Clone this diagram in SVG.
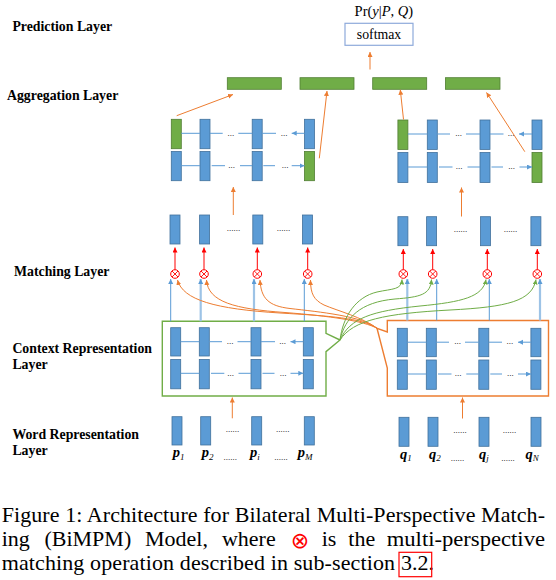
<svg xmlns="http://www.w3.org/2000/svg" width="556" height="580" viewBox="0 0 556 580">
<style>
.b{fill:#5b9bd5;stroke:#41719c;stroke-width:0.8}
.g{fill:#70ad47;stroke:#507e32;stroke-width:0.8}
.lbl{font-family:"Liberation Serif","Times New Roman",serif;font-weight:bold;font-size:13.8px;fill:#000}
.dots{font-family:"Liberation Serif",serif;font-size:9px;fill:#000;text-anchor:middle}
.wl{font-family:"Liberation Serif",serif;font-size:14.5px;font-weight:bold;font-style:italic;fill:#000}
.sub{font-size:9px;font-weight:normal}
.si{font-size:9px;font-weight:normal;font-style:italic}
.ab{stroke:#5b9bd5;stroke-width:1;fill:none;marker-end:url(#hb)}
.abl{stroke:#9dc3e6;stroke-width:2.2;fill:none;marker-end:url(#hb)}
.ao{stroke:#ed7d31;stroke-width:1;fill:none;marker-end:url(#ho)}
.ar{stroke:#ff0000;stroke-width:1;fill:none;marker-end:url(#hr)}
.ag{stroke:#70ad47;stroke-width:1;fill:none;marker-end:url(#hg)}
.ox{fill:#fff;stroke:#ff0000;stroke-width:1}
.cap{font-family:"Liberation Serif","Times New Roman",serif;font-size:22px;fill:#000}
</style>
<defs>
<marker id="hb" markerUnits="userSpaceOnUse" markerWidth="6" markerHeight="6" refX="5" refY="2.5" orient="auto"><path d="M0,0 L5,2.5 L0,5 Z" fill="#5b9bd5"/></marker>
<marker id="ho" markerUnits="userSpaceOnUse" markerWidth="6" markerHeight="6" refX="5" refY="2.5" orient="auto"><path d="M0,0 L5,2.5 L0,5 Z" fill="#ed7d31"/></marker>
<marker id="hr" markerUnits="userSpaceOnUse" markerWidth="6" markerHeight="6" refX="5" refY="2.5" orient="auto"><path d="M0,0 L5,2.5 L0,5 Z" fill="#ff0000"/></marker>
<marker id="hg" markerUnits="userSpaceOnUse" markerWidth="6" markerHeight="6" refX="5" refY="2.5" orient="auto"><path d="M0,0 L5,2.5 L0,5 Z" fill="#70ad47"/></marker>
</defs>

<g id="layer-labels" class="lbl">
<text x="12.4" y="30.7">Prediction Layer</text>
<text x="7" y="100">Aggregation Layer</text>
<text x="14" y="276">Matching Layer</text>
<text x="12.4" y="352.7">Context Representation</text>
<text x="12.4" y="369.3">Layer</text>
<text x="12.4" y="438.5">Word Representation</text>
<text x="12.4" y="454.5">Layer</text>
</g>

<g id="prediction">
<text x="354.6" y="16" font-family="'Liberation Serif',serif" font-size="14.5" fill="#000">Pr(<tspan font-style="italic">y</tspan>|<tspan font-style="italic">P</tspan>, <tspan font-style="italic">Q</tspan>)</text>
<rect x="345" y="23.3" width="68" height="22" fill="#fff" stroke="#8eaadb" stroke-width="1.2"/>
<text x="379" y="38.5" text-anchor="middle" font-family="'Liberation Serif',serif" font-size="13.8" fill="#000">softmax</text>
</g>

<g id="aggregation">
<rect class="g" x="227.3" y="77.7" width="54" height="11.6"/>
<rect class="g" x="300" y="77.7" width="54" height="11.6"/>
<rect class="g" x="372.7" y="77.7" width="54" height="11.6"/>
<rect class="g" x="445.4" y="77.7" width="54.6" height="11.6"/>
</g>

<g id="agg-bilstm-left">
<rect class="g" x="171.3" y="119.3" width="10" height="29.4"/>
<rect class="b" x="200" y="119.3" width="10" height="29.4"/>
<rect class="b" x="252.2" y="119.3" width="10" height="29.4"/>
<rect class="b" x="304.5" y="119.3" width="10" height="29.4"/>
<rect class="b" x="171.3" y="151.5" width="10" height="29.2"/>
<rect class="b" x="200" y="151.5" width="10" height="29.2"/>
<rect class="b" x="252.2" y="151.5" width="10" height="29.2"/>
<rect class="g" x="304.5" y="151.5" width="10" height="29.2"/>
<text class="dots" x="230.8" y="135.5">...</text>
<text class="dots" x="284" y="135.5">...</text>
<text class="dots" x="231.5" y="168">...</text>
<text class="dots" x="285" y="168">...</text>
</g>

<g id="agg-bilstm-right">
<rect class="g" x="397.9" y="120" width="10" height="29.4"/>
<rect class="b" x="427.3" y="120" width="10" height="29.4"/>
<rect class="b" x="480" y="120" width="10" height="29.4"/>
<rect class="b" x="532" y="120" width="10" height="29.4"/>
<rect class="b" x="397.9" y="152.5" width="10" height="30"/>
<rect class="b" x="427.3" y="152.5" width="10" height="30"/>
<rect class="b" x="480" y="152.5" width="10" height="30"/>
<rect class="g" x="532" y="152.5" width="10" height="30"/>
<text class="dots" x="458.5" y="136">...</text>
<text class="dots" x="511" y="136">...</text>
<text class="dots" x="459" y="169">...</text>
<text class="dots" x="511.5" y="169">...</text>
</g>

<g id="matching-out-left">
<rect class="b" x="170" y="215" width="10" height="29"/>
<rect class="b" x="199.6" y="215" width="10" height="29"/>
<rect class="b" x="252.8" y="215" width="10" height="29"/>
<rect class="b" x="302.5" y="215" width="10" height="29"/>
<text class="dots" x="233.5" y="231">......</text>
<text class="dots" x="283.5" y="231">......</text>
</g>
<g id="matching-out-right">
<rect class="b" x="397.9" y="216.7" width="10" height="29"/>
<rect class="b" x="426.6" y="216.7" width="10" height="29"/>
<rect class="b" x="480.5" y="216.7" width="10" height="29"/>
<rect class="b" x="530.9" y="216.7" width="10" height="29"/>
<text class="dots" x="460.5" y="232">......</text>
<text class="dots" x="510.5" y="232">......</text>
</g>

<g id="match-ops">
<g><circle class="ox" cx="175" cy="274" r="4.3"/><path d="M172,271 L178,277 M178,271 L172,277" stroke="#f00" stroke-width="0.9"/></g>
<g><circle class="ox" cx="204" cy="274" r="4.3"/><path d="M201,271 L207,277 M207,271 L201,277" stroke="#f00" stroke-width="0.9"/></g>
<g><circle class="ox" cx="257.3" cy="274" r="4.3"/><path d="M254.3,271 L260.3,277 M260.3,271 L254.3,277" stroke="#f00" stroke-width="0.9"/></g>
<g><circle class="ox" cx="307.7" cy="274" r="4.3"/><path d="M304.7,271 L310.7,277 M310.7,271 L304.7,277" stroke="#f00" stroke-width="0.9"/></g>
<g><circle class="ox" cx="403.3" cy="274" r="4.3"/><path d="M400.3,271 L406.3,277 M406.3,271 L400.3,277" stroke="#f00" stroke-width="0.9"/></g>
<g><circle class="ox" cx="432.7" cy="274" r="4.3"/><path d="M429.7,271 L435.7,277 M435.7,271 L429.7,277" stroke="#f00" stroke-width="0.9"/></g>
<g><circle class="ox" cx="487.3" cy="274" r="4.3"/><path d="M484.3,271 L490.3,277 M490.3,271 L484.3,277" stroke="#f00" stroke-width="0.9"/></g>
<g><circle class="ox" cx="537.3" cy="274" r="4.3"/><path d="M534.3,271 L540.3,277 M540.3,271 L534.3,277" stroke="#f00" stroke-width="0.9"/></g>
</g>

<g id="context-left">
<path d="M162.3,321.3 H326 V333.3 L340,340 L326,351.7 V396 H162.3 Z" fill="none" stroke="#70ad47" stroke-width="1.4"/>
<rect class="b" x="170.7" y="327.7" width="10" height="28.3"/>
<rect class="b" x="199.3" y="327.7" width="10" height="28.3"/>
<rect class="b" x="251" y="327.7" width="10" height="28.3"/>
<rect class="b" x="303.3" y="327.7" width="10" height="28.3"/>
<rect class="b" x="170.7" y="359.5" width="10" height="29.3"/>
<rect class="b" x="199.3" y="359.5" width="10" height="29.3"/>
<rect class="b" x="251" y="359.5" width="10" height="29.3"/>
<rect class="b" x="303.3" y="359.5" width="10" height="29.3"/>
<text class="dots" x="230" y="343.7">...</text>
<text class="dots" x="282.5" y="343.7">...</text>
<text class="dots" x="230.5" y="375.5">...</text>
<text class="dots" x="283" y="375.5">...</text>
</g>

<g id="context-right">
<path d="M387.3,332 V320.5 H548.5 V396 H387.3 V368 L377,328.3 Z" fill="none" stroke="#ed7d31" stroke-width="1.4"/>
<rect class="b" x="397.3" y="328.3" width="10" height="28.4"/>
<rect class="b" x="426.3" y="328.3" width="10" height="28.4"/>
<rect class="b" x="478.8" y="328.3" width="10" height="28.4"/>
<rect class="b" x="530.9" y="328.3" width="10" height="28.4"/>
<rect class="b" x="397.3" y="360" width="10" height="29.3"/>
<rect class="b" x="426.3" y="360" width="10" height="29.3"/>
<rect class="b" x="478.8" y="360" width="10" height="29.3"/>
<rect class="b" x="530.9" y="360" width="10" height="29.3"/>
<text class="dots" x="457.5" y="344.2">...</text>
<text class="dots" x="509.8" y="344.2">...</text>
<text class="dots" x="458" y="376">...</text>
<text class="dots" x="510.3" y="376">...</text>
</g>

<g id="word-left">
<rect class="b" x="172" y="416.7" width="10" height="28.3"/>
<rect class="b" x="200.7" y="416.7" width="10" height="28.3"/>
<rect class="b" x="251.7" y="416.7" width="10" height="28.3"/>
<rect class="b" x="304.3" y="416.7" width="10" height="28.3"/>
<text class="dots" x="232.5" y="432">......</text>
<text class="dots" x="282.8" y="432">......</text>
<text class="wl" x="172.7" y="457.3">p<tspan class="sub" dy="2.5">1</tspan></text>
<text class="wl" x="201.7" y="457.3">p<tspan class="sub" dy="2.5">2</tspan></text>
<text class="dots" x="230.3" y="459.5">......</text>
<text class="wl" x="250" y="457.3">p<tspan class="si" dy="2.5">i</tspan></text>
<text class="dots" x="281" y="459.5">......</text>
<text class="wl" x="297.7" y="457.3">p<tspan class="si" dy="2.5">M</tspan></text>
</g>

<g id="word-right">
<rect class="b" x="399" y="417.3" width="10" height="29"/>
<rect class="b" x="428" y="417.3" width="10" height="29"/>
<rect class="b" x="479" y="417.3" width="10" height="29"/>
<rect class="b" x="531" y="417.3" width="10" height="29"/>
<text class="dots" x="460" y="433">......</text>
<text class="dots" x="509.5" y="433">......</text>
<text class="wl" x="400" y="458.5">q<tspan class="sub" dy="2.5">1</tspan></text>
<text class="wl" x="429" y="458.5">q<tspan class="sub" dy="2.5">2</tspan></text>
<text class="dots" x="457.5" y="461">......</text>
<text class="wl" x="479" y="458.5">q<tspan class="si" dy="2.5">j</tspan></text>
<text class="dots" x="508" y="461">......</text>
<text class="wl" x="525.5" y="458.5">q<tspan class="si" dy="2.5">N</tspan></text>
</g>

<g id="connectors">
<path class="ao" d="M370,69.5 V52"/>
<path class="ao" d="M176.7,115.7 L233,94.5"/>
<path class="ao" d="M319.3,158.3 L327,91"/>
<path class="ao" d="M403.5,119.5 L400.3,89.8"/>
<path class="ao" d="M524.8,151.7 L486.5,92.5"/>
<path class="ao" d="M233.3,215 V187"/>
<path class="ao" d="M461.5,216.5 V187.5"/>
<path class="ao" d="M232.3,418.3 V397.5"/>
<path class="ao" d="M462.5,418.5 V397.5"/>

<path class="ab" d="M200,133.3 H181.3 M222.7,133.3 H210 M252.2,133.3 H238.3 M276,133.3 H262.2 M304.5,133.3 H291.7"/>
<path class="ab" d="M181.3,165.7 H200 M211.7,165.7 H225 M240,165.7 H252.2 M263.3,165.7 H275 M291.7,165.7 H304.5"/>
<path class="ab" d="M427.3,134 H407.9 M450,134 H437.3 M480,134 H466 M503.5,134 H490 M532,134 H519"/>
<path class="ab" d="M407.9,167 H427.3 M439,167 H452.5 M467.5,167 H480 M491.5,167 H503 M519.5,167 H532"/>

<path class="ab" d="M199.3,341.7 H180.7 M222,341.7 H209.3 M251,341.7 H237.5 M275,341.7 H261 M303.3,341.7 H290.5"/>
<path class="ab" d="M180.7,373.3 H199.3 M211,373.3 H224.3 M238.5,373.3 H251 M262.5,373.3 H274.5 M290.5,373.3 H303.3"/>
<path class="ab" d="M426.3,342.2 H407.3 M449,342.2 H436.3 M478.8,342.2 H465 M502,342.2 H488.8 M530.9,342.2 H518"/>
<path class="ab" d="M407.3,374 H426.3 M438,374 H451.5 M466.3,374 H478.8 M490.3,374 H502 M518,374 H530.9"/>

<path class="ar" d="M175,269.7 V247.5"/>
<path class="ar" d="M204,269.7 V247.5"/>
<path class="ar" d="M257.3,269.7 V247.5"/>
<path class="ar" d="M307.7,269.7 V247.5"/>
<path class="ar" d="M403.3,269.7 V249"/>
<path class="ar" d="M432.7,269.7 V249"/>
<path class="ar" d="M487.3,269.7 V249"/>
<path class="ar" d="M537.3,269.7 V249"/>

<path class="ab" d="M170.7,321.3 V279"/>
<path class="abl" d="M200.7,321.3 V279"/>
<path class="abl" d="M254,321.3 V279"/>
<path class="ab" d="M304.3,321.3 V279"/>
<path class="abl" d="M407.3,320.5 V279"/>
<path class="ab" d="M436.7,320.5 V279"/>
<path class="ab" d="M489.3,320.5 V279"/>
<path class="abl" d="M540,320.5 V279"/>

<path class="ao" d="M377,328.3 C362,318 330,316 280,313 C215,309 183,300 177.5,280"/>
<path class="ao" d="M377,328.3 C364,321 330,316 285,312.5 C235,309 208,302 206.5,280"/>
<path class="ao" d="M377,328.3 C362,316 320,312 290,308.5 C268,306 261,298 260,280"/>
<path class="ao" d="M377,328.3 C362,317 338,311 324,305 C314,300 310.5,294 310.5,280"/>

<path class="ag" d="M340,340 C343,316 356,297 377,292 C393,288.5 401.5,290 402,279.5"/>
<path class="ag" d="M340,340 C345,318 360,302 395,299 C420,297 430.5,295 431.5,279.5"/>
<path class="ag" d="M340,340 C350,318 372,311 420,306 C462,302 483,297 486,279.5"/>
<path class="ag" d="M340,340 C353,320 385,313.5 450,310 C508,307 532,301 536,279.5"/>
</g>

<g id="caption" class="cap">
<text transform="translate(0,522) scale(1,0.91)" x="1.7" y="0" textLength="543.3" lengthAdjust="spacing">Figure 1: Architecture for Bilateral Multi-Perspective Match-</text>
<text transform="translate(0,546) scale(1,0.91)" y="0"><tspan x="1.7">ing</tspan><tspan x="44.5">(BiMPM)</tspan><tspan x="145">Model,</tspan><tspan x="222">where</tspan><tspan x="321.7">is</tspan><tspan x="348.3">the</tspan><tspan x="386.7" textLength="158.3" lengthAdjust="spacingAndGlyphs">multi-perspective</tspan></text>
<text x="300" y="548" text-anchor="middle" font-family="'DejaVu Sans',sans-serif" font-size="22" fill="#ff0000">⊗</text>
<text transform="translate(0,570) scale(1,0.91)" y="0"><tspan x="1.7" textLength="393.3" lengthAdjust="spacing">matching operation described in sub-section</tspan><tspan x="401">3.2</tspan>.</text>
<rect x="399" y="552.3" width="32.7" height="24.4" fill="none" stroke="#ff0000" stroke-width="1.2"/>
</g>
</svg>
